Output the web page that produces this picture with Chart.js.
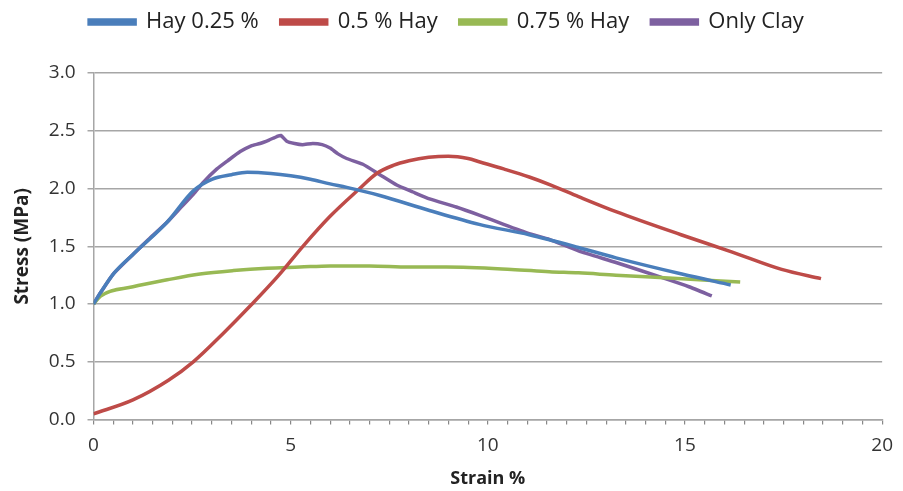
<!DOCTYPE html>
<html>
<head>
    <title>Stress vs Strain</title>
    <script src="https://cdn.jsdelivr.net/npm/chart.js"></script>
    <style>
        body { margin: 0; background: #fff; }
        #wrap { width: 903px; height: 491px; }
    </style>
</head>
<body>
<div id="wrap"><canvas id="stressChart"></canvas></div>

<script>
    // values: strain (%) and stress (MPa)
    const hay025Strain = [0, 0.18, 0.5, 1.0, 1.87, 2.53, 3.0, 3.5, 3.9, 4.5, 5.0, 5.5, 6.0, 6.42, 7.26, 8.52, 9.78, 11.05, 12.3, 13.25, 14.92, 16.16];
    const hay025Stress = [1.0, 1.10, 1.26, 1.43, 1.71, 1.98, 2.08, 2.12, 2.14, 2.13, 2.11, 2.08, 2.04, 2.01, 1.94, 1.81, 1.69, 1.60, 1.49, 1.40, 1.26, 1.165];

    const hay05Strain = [0, 1.0, 1.9, 2.53, 3.3, 4.02, 4.7, 5.31, 6.0, 6.75, 7.18, 7.6, 8.0, 8.5, 9.0, 9.5, 9.8, 10.4, 11.05, 11.6, 12.3, 13.25, 14.9, 16.2, 17.45, 18.45];
    const hay05Stress = [0.05, 0.17, 0.34, 0.50, 0.75, 1.0, 1.25, 1.50, 1.76, 2.0, 2.13, 2.20, 2.24, 2.27, 2.28, 2.26, 2.23, 2.17, 2.10, 2.03, 1.93, 1.80, 1.60, 1.45, 1.30, 1.22];

    const hay075Strain = [0, 0.18, 1.0, 1.87, 2.7, 3.55, 4.4, 5.23, 6, 7, 8, 8.95, 10.6, 11.56, 12.3, 13.25, 14.92, 16.4];
    const hay075Stress = [1.0, 1.07, 1.15, 1.21, 1.26, 1.29, 1.31, 1.32, 1.33, 1.33, 1.32, 1.32, 1.30, 1.28, 1.27, 1.25, 1.22, 1.19];

    const clayStrain = [0, 0.18, 0.5, 1.0, 1.4, 1.87, 2.2, 2.53, 2.8, 3.13, 3.4, 3.72, 4.0, 4.22, 4.45, 4.65, 4.75, 4.9, 5.1, 5.3, 5.56, 5.8, 6.0, 6.2, 6.42, 6.83, 7.26, 7.69, 8.1, 8.52, 9.2, 9.78, 10.4, 11.05, 11.56, 12.3, 13.25, 14.5, 15.1, 15.68];
    const clayStress = [1.0, 1.10, 1.26, 1.43, 1.56, 1.71, 1.83, 1.95, 2.06, 2.17, 2.24, 2.32, 2.37, 2.39, 2.42, 2.45, 2.46, 2.41, 2.39, 2.38, 2.39, 2.38, 2.35, 2.30, 2.26, 2.21, 2.12, 2.03, 1.97, 1.91, 1.84, 1.77, 1.69, 1.61, 1.56, 1.46, 1.36, 1.22, 1.15, 1.07];

    const seriesNames = ['Hay 0.25 %', '0.5 % Hay', '0.75 % Hay', 'Only Clay'];
    const seriesColors = ['#4a7ebb', '#be4b48', '#98b954', '#7d60a0'];

    function toPoints(xs, ys) {
        return xs.map((x, i) => ({ x: x, y: ys[i] }));
    }

    const allSeries = [
        toPoints(hay025Strain, hay025Stress),
        toPoints(hay05Strain, hay05Stress),
        toPoints(hay075Strain, hay075Stress),
        toPoints(clayStrain, clayStress)
    ];

    // the legend sits closer to the top edge than Chart.js would put it
    const legendShift = {
        id: 'legendShift',
        afterLayout(chart) {
            chart.legend.top -= 30;
            chart.legend.bottom -= 30;
        }
    };

    const ctx = document.getElementById('stressChart').getContext('2d');
    const stressChart = new Chart(ctx, {
        type: 'scatter',
        data: {
            datasets: allSeries.map((pts, i) => ({
                label: seriesNames[i],
                data: pts,
                showLine: true,
                borderColor: seriesColors[i],
                backgroundColor: seriesColors[i],
                borderWidth: 3.5,
                pointRadius: 0,
                cubicInterpolationMode: i === 3 ? 'default' : 'monotone',
                tension: i === 3 ? 0.15 : 0.4
            }))
        },
        options: {
            responsive: true,
            maintainAspectRatio: false,
            animation: false,
            layout: { padding: { left: 7, right: 17, top: 19, bottom: 1 } },
            plugins: {
                legend: {
                    position: 'top',
                    align: 'center',
                    labels: {
                        boxWidth: 46,
                        boxHeight: 4,
                        padding: 22,
                        color: '#222',
                        font: { family: 'Open Sans', size: 22 }
                    }
                },
                tooltip: { enabled: false }
            },
            scales: {
                x: {
                    type: 'linear',
                    min: 0,
                    max: 20,
                    title: {
                        display: true,
                        text: 'Strain %',
                        color: '#222',
                        padding: { top: 1, bottom: 0 },
                        font: { family: 'Open Sans', size: 18, weight: 'bold' }
                    },
                    ticks: {
                        stepSize: 0.5,
                        autoSkip: false,
                        maxRotation: 0,
                        padding: 10,
                        color: '#333',
                        font: { family: 'Open Sans', size: 19 },
                        callback: v => (v % 5 === 0 ? v : '')
                    },
                    grid: { drawOnChartArea: false, color: '#888', lineWidth: 1.2, tickLength: 5 },
                    border: { color: '#a6a6a6', width: 1.5 }
                },
                y: {
                    min: 0,
                    max: 3,
                    title: {
                        display: true,
                        text: 'Stress (MPa)',
                        color: '#222',
                        padding: { top: 4, bottom: 3 },
                        font: { family: 'Open Sans', size: 19, weight: 'bold' }
                    },
                    ticks: {
                        stepSize: 0.5,
                        padding: 12,
                        color: '#333',
                        font: { family: 'Open Sans', size: 19 },
                        callback: v => v.toFixed(1)
                    },
                    grid: { color: '#a6a6a6', lineWidth: 1.5, tickLength: 6 },
                    border: { color: '#a6a6a6', width: 1.5 }
                }
            }
        },
        plugins: [legendShift]
    });
</script>
</body>
</html>
